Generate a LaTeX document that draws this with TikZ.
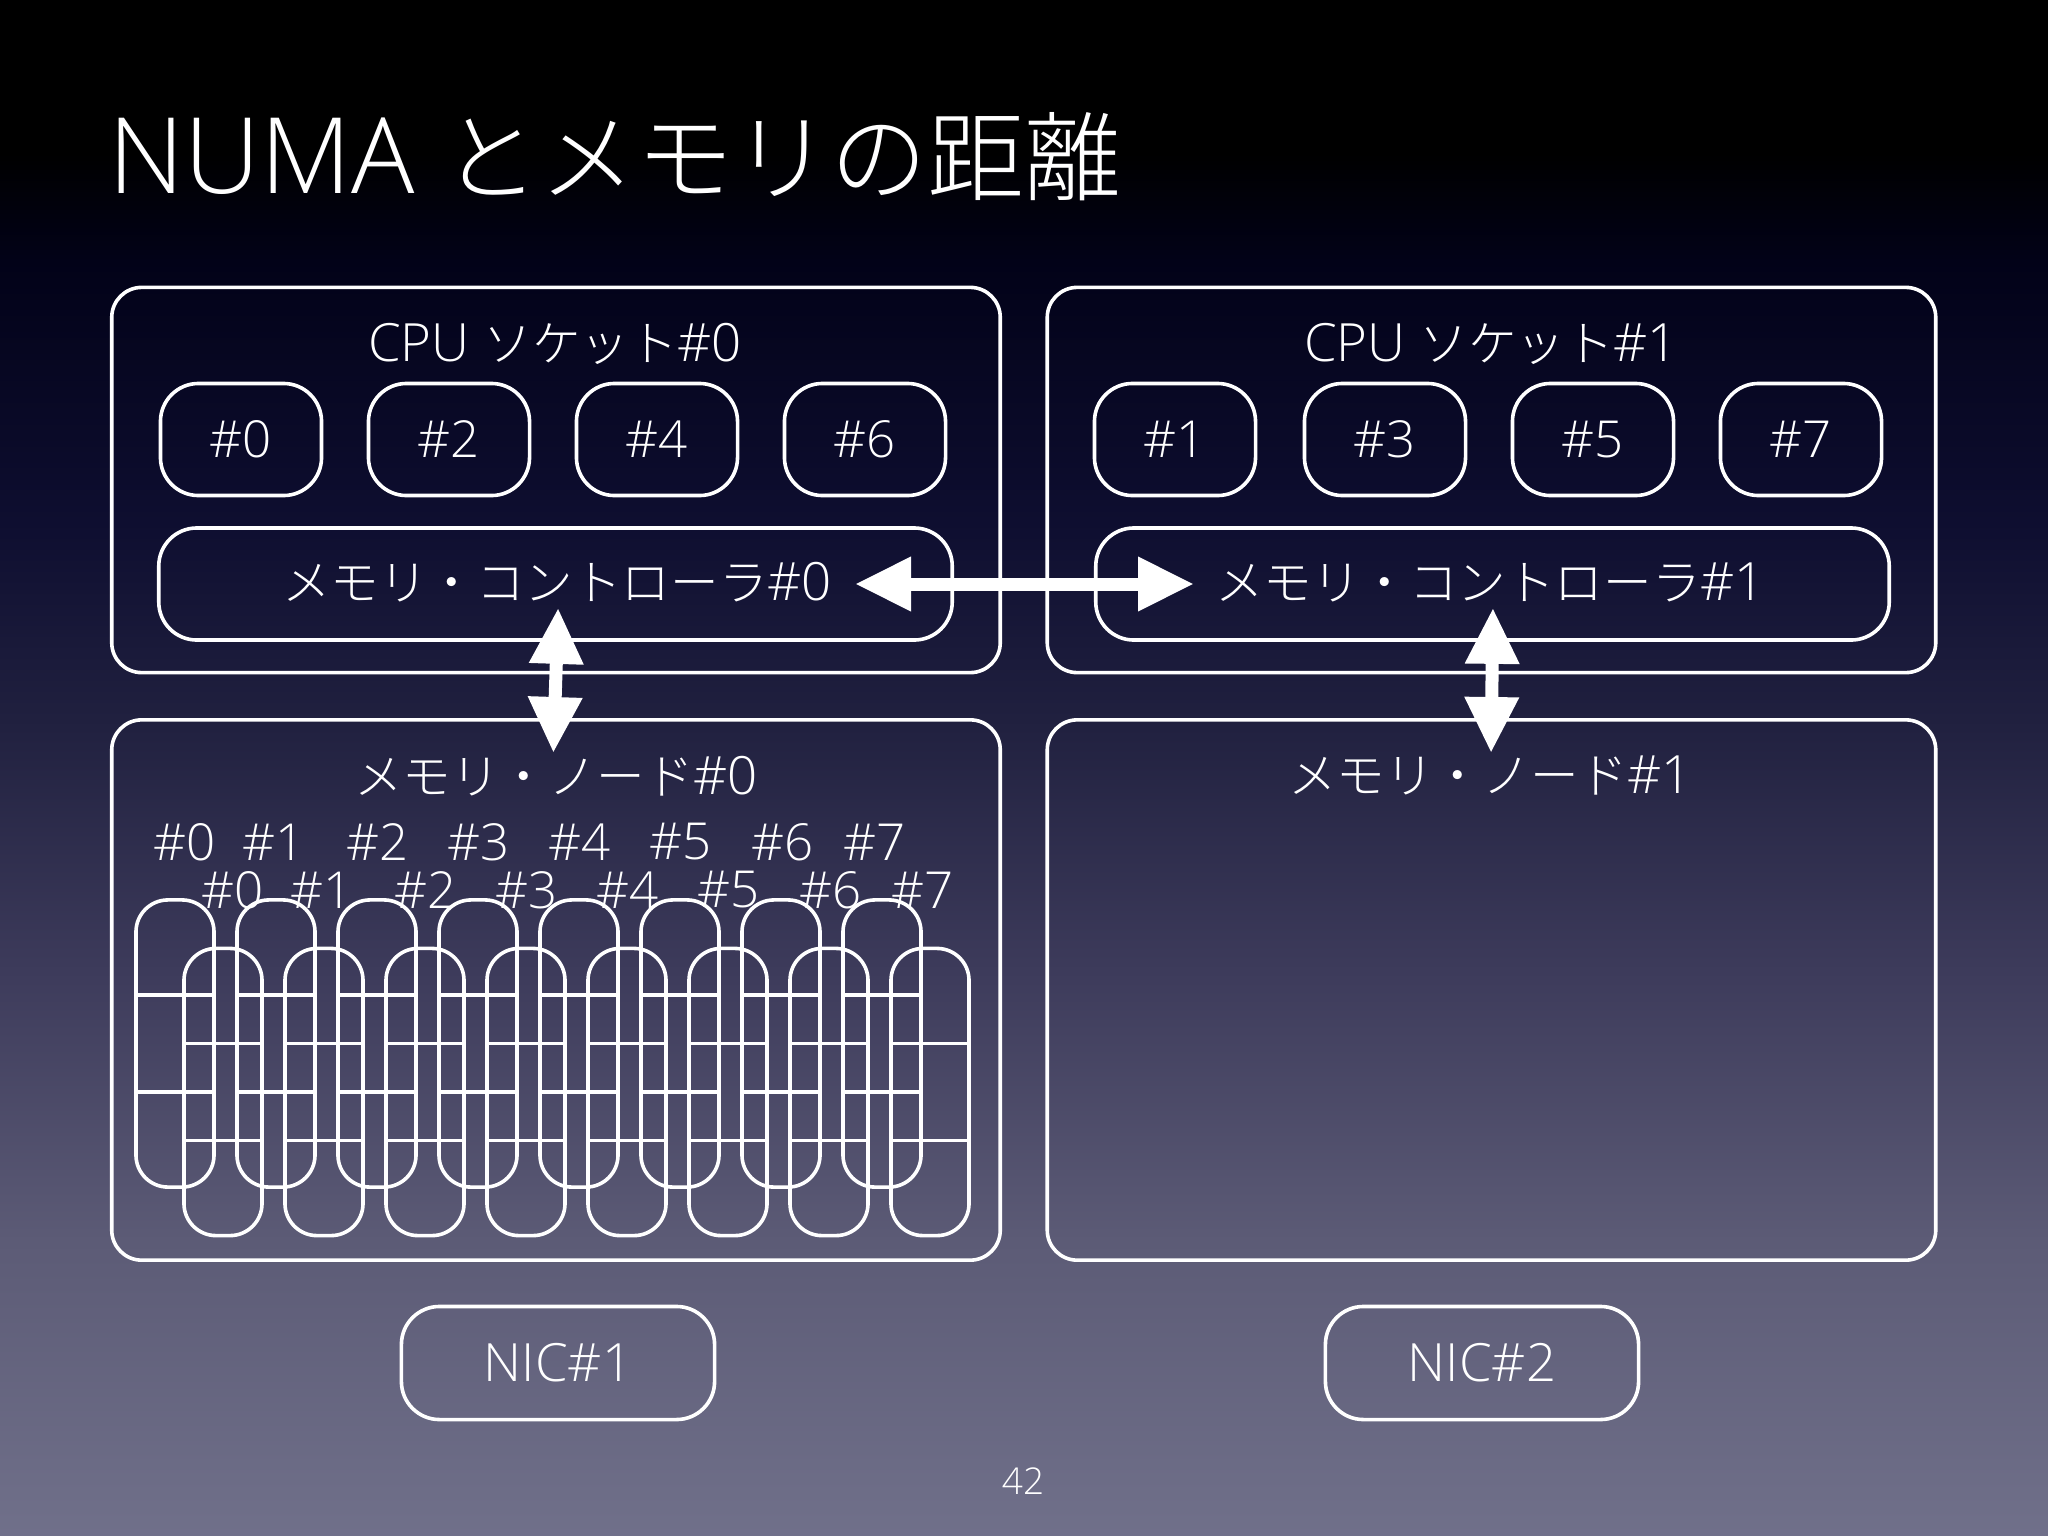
\documentclass[tikz,border=0pt]{standalone}
\usepackage{fontspec}
\usepackage{tikz}
\usetikzlibrary{arrows.meta,calc}
\setmainfont{Open Sans Light}
\newfontfamily\jpfont[Scale=0.92]{Noto Sans CJK JP Light}
\newcommand{\jp}[1]{{\jpfont #1}}
\definecolor{bgtop}{HTML}{000000}
\definecolor{bgdark}{HTML}{020218}
\definecolor{bgnavy}{HTML}{0E0E30}
\definecolor{bgmid}{HTML}{20203F}
\definecolor{bgsoft}{HTML}{3E3C5C}
\definecolor{bglow}{HTML}{5C5B76}
\definecolor{bgend}{HTML}{70708A}
\pgfdeclareverticalshading{slidebg}{100bp}{color(0bp)=(bgend); color(25bp)=(bgend);
  color(34.6bp)=(bglow); color(43.1bp)=(bgsoft); color(51.6bp)=(bgmid); color(58bp)=(bgnavy);
  color(66.5bp)=(bgdark); color(70bp)=(bgtop); color(75bp)=(bgtop); color(100bp)=(bgtop)}

\begin{document}
\begin{tikzpicture}[
  x=0.01cm, y=-0.01cm,
  outerbox/.style={draw=white, line width=0.036cm, rounded corners=0.3cm, minimum width=8.88cm},
  corebox/.style={draw=white, line width=0.036cm, rounded corners=0.38cm, minimum width=1.61cm,
                  minimum height=1.12cm, text=white, font=\fontsize{14.5}{16}\selectfont},
  ctrlbox/.style={draw=white, line width=0.036cm, rounded corners=0.38cm, minimum width=7.93cm,
                  minimum height=1.12cm},
  nicbox/.style={draw=white, line width=0.036cm, rounded corners=0.38cm, minimum width=3.13cm,
                 minimum height=1.13cm, text=white, font=\fontsize{15}{16}\selectfont},
  dimm/.style={draw=white, line width=0.036cm, rounded corners=0.32cm, minimum width=0.78cm,
               minimum height=2.87cm},
  label/.style={text=white, font=\fontsize{14.5}{16}\selectfont},
  longlabel/.style={text=white, font=\fontsize{15}{16}\selectfont},
  cell/.style={draw=white, line width=0.036cm},
  link/.style={draw=white, line width=0.13cm, {Triangle[length=0.56cm,width=0.51cm]}-{Triangle[length=0.56cm,width=0.51cm]}}
]

  \shade[shading=slidebg] (0,0) rectangle (2048,1536);

  \node[text=white, anchor=base west, inner sep=0pt, font=\fontsize{30}{32}\selectfont] (title) at (108,193)
    {NUMA \jp{とメモリの距離}};

  % sockets and memory nodes
  \node[outerbox, minimum height=3.85cm] (sock0) at (556,480) {};
  \node[outerbox, minimum height=3.85cm] (sock1) at (1491.5,480) {};
  \node[outerbox, minimum height=5.4cm]  (mem0)  at (556,990) {};
  \node[outerbox, minimum height=5.4cm]  (mem1)  at (1491.5,990) {};

  \node[longlabel] (sock0lbl) at (555,344)  {CPU \jp{ソケット}\#0};
  \node[longlabel] (sock1lbl) at (1491,344) {CPU \jp{ソケット}\#1};
  \node[longlabel] (mem0lbl)  at (556,776)  {\jp{メモリ・ノード}\#0};
  \node[longlabel] (mem1lbl)  at (1490,776) {\jp{メモリ・ノード}\#1};

  % cores
  \foreach \n/\xpos in {0/241,2/449,4/657,6/865,1/1175,3/1385,5/1593,7/1801}
    \node[corebox] (core\n) at (\xpos,439.5) {\#\n};

  % memory controllers
  \node[ctrlbox] (ctrl0) at (555.5,584)  {};
  \node[ctrlbox] (ctrl1) at (1492.5,584) {};
  \node[longlabel] (ctrl0lbl) at (557,582)  {\jp{メモリ・コントローラ}\#0};
  \node[longlabel] (ctrl1lbl) at (1490,582) {\jp{メモリ・コントローラ}\#1};

  % channel labels
  \foreach \n/\xpos in {0/185,1/274,2/378,3/479,4/580,5/681,6/783,7/875} {
    \node[label] (cha\n) at (\xpos,842) {\#\n};
    \node[label] (chb\n) at (\xpos+48,890) {\#\n};
  }

  % modules
  \foreach \i in {0,...,7} {
    \node[dimm] (dima\i) at (175+\i*101,1043.5) {};
    \node[dimm] (dimb\i) at (223+\i*101,1092) {};
    \foreach \d in {dima\i,dimb\i} {
      \draw[cell] ($(\d.north west)!1/3!(\d.south west)$) -- ($(\d.north east)!1/3!(\d.south east)$);
      \draw[cell] ($(\d.north west)!2/3!(\d.south west)$) -- ($(\d.north east)!2/3!(\d.south east)$);
    }
  }

  % links
  \draw[link, shorten <=-0.99cm, shorten >=-1.0cm] (ctrl0.east) -- (ctrl1.west);
  \draw[link, shorten <=-0.34cm, shorten >=-0.35cm] ([xshift=0.015cm]ctrl0.south) -- ([xshift=-0.015cm]mem0.north);
  \draw[link, shorten <=-0.34cm, shorten >=-0.35cm] (ctrl1.south) -- (mem1.north);

  % NICs
  \node[nicbox] (nic1) at (558,1363)  {NIC\#1};
  \node[nicbox] (nic2) at (1482,1363) {NIC\#2};

  \node[text=white, font=\fontsize{10.5}{12}\selectfont] (pageno) at (1023,1481) {42};

\end{tikzpicture}
\end{document}
